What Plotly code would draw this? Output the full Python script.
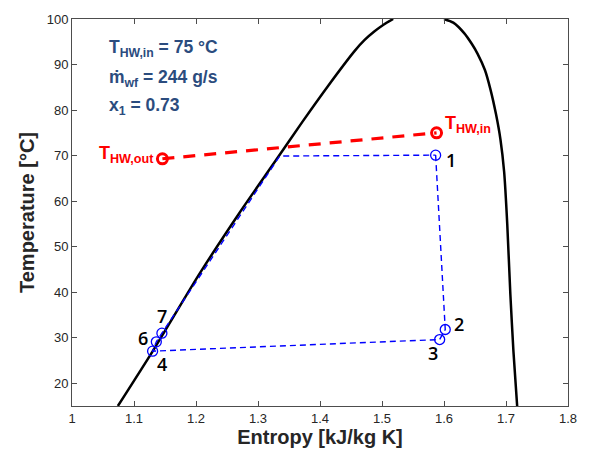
import plotly.graph_objects as go

# Saturation dome of the working fluid (T-s diagram)
liq_s = [1.074, 1.130, 1.205, 1.270, 1.328, 1.371, 1.413, 1.456, 1.472, 1.488, 1.503, 1.518]
liq_T = [15.0, 27.0, 43.9, 57.4, 68.8, 77.3, 85.3, 93.0, 95.4, 97.3, 98.8, 100.0]
vap_s = [1.600, 1.615, 1.6325, 1.645, 1.654, 1.666, 1.675, 1.684, 1.691, 1.697, 1.702, 1.707,
         1.712, 1.718]
vap_T = [100.0, 99.2, 96.9, 94.5, 92.4, 88.8, 84.5, 79.0, 73.6, 66.4, 55.0, 39.6, 27.0, 15.0]

# Cycle states, in path order 1-2-3-4-6-7-5-1
cyc_labels = ["1", "2", "3", "4", "6", "7", "5", "1"]
cyc_s = [1.5865, 1.602, 1.593, 1.130, 1.136, 1.145, 1.335, 1.5865]
cyc_T = [70.1, 31.8, 29.6, 27.05, 29.1, 31.0, 69.9, 70.1]
marked = ["1", "2", "3", "4", "6", "7"]

# Hot water stream
hw_s = [1.1458, 1.588]
hw_T = [69.3, 75.0]

# Axes
x_ticks = [1, 1.1, 1.2, 1.3, 1.4, 1.5, 1.6, 1.7, 1.8]
y_ticks = [20, 30, 40, 50, 60, 70, 80, 90, 100]

fig = go.Figure()

fig.add_trace(go.Scatter(x=liq_s, y=liq_T, mode="lines",
                         line=dict(color="black", width=2.5, shape="spline", smoothing=0.6),
                         showlegend=False, hoverinfo="skip"))
fig.add_trace(go.Scatter(x=vap_s, y=vap_T, mode="lines",
                         line=dict(color="black", width=2.5, shape="spline", smoothing=0.6),
                         showlegend=False, hoverinfo="skip"))

fig.add_trace(go.Scatter(x=cyc_s, y=cyc_T, mode="lines",
                         line=dict(color="#0000FF", width=1.4, dash="6px,4px"),
                         showlegend=False))
mk_s = [s for s, l in zip(cyc_s, cyc_labels) if l in marked][:6]
mk_T = [t for t, l in zip(cyc_T, cyc_labels) if l in marked][:6]
fig.add_trace(go.Scatter(x=mk_s, y=mk_T, mode="markers",
                         marker=dict(symbol="circle-open", size=10, color="#0000FF",
                                     line=dict(width=1.3, color="#0000FF")),
                         showlegend=False))

fig.add_trace(go.Scatter(x=hw_s, y=hw_T, mode="lines",
                         line=dict(color="#FF0000", width=3.2, dash="12px,9px"),
                         showlegend=False))
fig.add_trace(go.Scatter(x=hw_s, y=hw_T, mode="markers",
                         marker=dict(symbol="circle-open", size=10, color="#FF0000",
                                     line=dict(width=3, color="#FF0000")),
                         showlegend=False))

# State number labels
num_font = dict(family="Open Sans", size=18, color="#000000", weight=600)
state_labels = {"1": (1.612, 69.0), "2": (1.6234, 33.1), "3": (1.5817, 26.6),
                "4": (1.1458, 24.2), "6": (1.1138, 30.0), "7": (1.1458, 34.7)}
for txt, (sx, ty) in state_labels.items():
    fig.add_annotation(x=sx, y=ty, text=txt, showarrow=False, font=num_font,
                       xanchor="center", yanchor="middle")

red_font = dict(family="Liberation Sans", size=18, color="#FF0000")
fig.add_annotation(x=1.136, y=70.2, text="<b>T<sub>HW,out</sub></b>", showarrow=False,
                   font=red_font, xanchor="right", yanchor="middle")
fig.add_annotation(x=1.598, y=76.8, text="<b>T<sub>HW,in</sub></b>", showarrow=False,
                   font=red_font, xanchor="left", yanchor="middle")

blue_font = dict(family="Liberation Sans", size=17.5, color="#2B4C7E")
info_lines = [("<b>T<sub>HW,in</sub> = 75 °C</b>", 93.6),
              ("<b>ṁ<sub>wf</sub> = 244 g/s</b>", 86.9),
              ("<b>x<sub>1</sub> = 0.73</b>", 80.7)]
for txt, ty in info_lines:
    fig.add_annotation(x=1.056, y=ty, text=txt, showarrow=False, font=blue_font,
                       xanchor="left", yanchor="middle")

axis_common = dict(showline=True, mirror="ticks", linecolor="#4d4d4d", linewidth=1,
                   ticks="inside", ticklen=5, tickcolor="#4d4d4d", showgrid=False,
                   zeroline=False, tickfont=dict(family="Liberation Sans", size=13, color="#262626"))
fig.update_xaxes(range=[1, 1.8], tickvals=x_ticks, ticktext=[f"{v:g}" for v in x_ticks],
                 title=dict(text="<b>Entropy [kJ/kg K]</b>",
                            font=dict(family="Liberation Sans", size=20, color="#262626"),
                            standoff=5),
                 **axis_common)
fig.update_yaxes(range=[15, 100], tickvals=y_ticks,
                 title=dict(text="<b>Temperature [°C]</b>",
                            font=dict(family="Liberation Sans", size=20, color="#262626"),
                            standoff=6),
                 **axis_common)

fig.update_layout(width=589, height=459, margin=dict(l=72, r=18, t=16, b=53),
                  plot_bgcolor="white", paper_bgcolor="white", showlegend=False)

fig.write_html("out.html")
